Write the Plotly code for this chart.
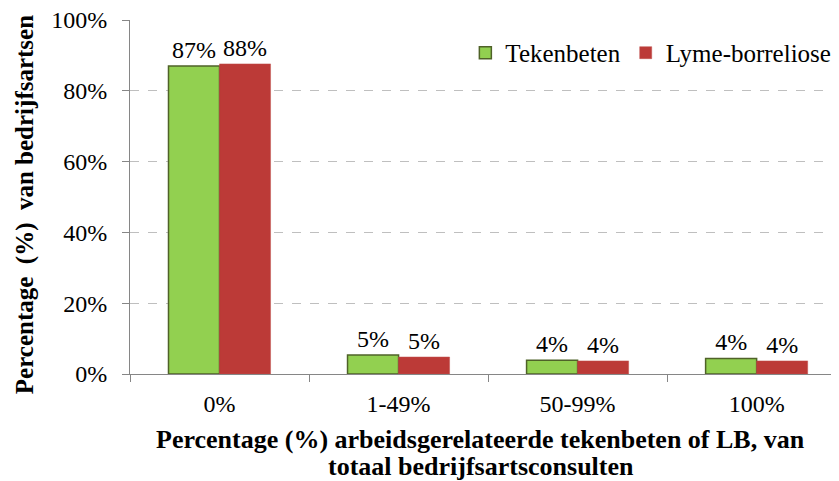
import plotly.graph_objects as go

categories = ["0%", "1-49%", "50-99%", "100%"]
tekenbeten = [87.0, 5.4, 3.9, 4.4]
lyme = [87.6, 4.8, 3.7, 3.7]
tekenbeten_labels = ["87%", "5%", "4%", "4%"]
lyme_labels = ["88%", "5%", "4%", "4%"]
y_ticks = [0, 20, 40, 60, 80, 100]
y_tick_labels = ["0%", "20%", "40%", "60%", "80%", "100%"]

font = "Liberation Serif"

fig = go.Figure()
fig.add_trace(go.Bar(
    x=categories, y=tekenbeten, name="Tekenbeten",
    marker=dict(color="#92D050", line=dict(color="#4F6228", width=1.5)),
    text=tekenbeten_labels, textposition="outside",
    textfont=dict(size=24, color="black", family=font),
    cliponaxis=False,
))
fig.add_trace(go.Bar(
    x=categories, y=lyme, name="Lyme-borreliose",
    marker=dict(color="#BC3A37", line=dict(color="#C0504D", width=0.5)),
    text=lyme_labels, textposition="outside",
    textfont=dict(size=24, color="black", family=font),
    cliponaxis=False,
))

# page body has an 8px margin, so the figure is a bit smaller than the window
fig.update_layout(
    width=831, height=473,
    margin=dict(l=122, r=0, t=12, b=107),
    paper_bgcolor="white", plot_bgcolor="white",
    font=dict(family=font, size=24, color="black"),
    barmode="group", bargap=0.43, bargroupgap=0,
    legend=dict(
        orientation="h", x=0.473, xanchor="left", y=0.907, yanchor="middle",
        font=dict(size=25), bgcolor="rgba(0,0,0,0)", itemwidth=30,
    ),
    xaxis=dict(
        range=[-0.5, 3.46], automargin=False,
        showline=True, linecolor="#868686", linewidth=1,
        ticks="outside", tickson="boundaries", ticklen=7, tickcolor="#868686",
        tickfont=dict(size=24), ticklabelstandoff=8,
    ),
    yaxis=dict(
        range=[0, 100], tickvals=y_ticks, ticktext=y_tick_labels, automargin=False,
        showline=True, linecolor="#868686", linewidth=1,
        ticks="outside", ticklen=7, tickcolor="#868686",
        showgrid=True, gridcolor="#BFBFBF", griddash="dash", gridwidth=1,
        zeroline=False, tickfont=dict(size=24), ticklabelstandoff=10,
        ticklabeloverflow="allow",
    ),
)

# axis titles as annotations to get Excel-like tight line spacing
fig.add_annotation(
    text="<b>Percentage (%) arbeidsgerelateerde tekenbeten of LB, van</b>",
    xref="paper", yref="paper", x=0.495, y=-0.186, xanchor="center", yanchor="middle",
    showarrow=False, font=dict(size=26),
)
fig.add_annotation(
    text="<b>totaal bedrijfsartsconsulten</b>",
    xref="paper", yref="paper", x=0.495, y=-0.26, xanchor="center", yanchor="middle",
    showarrow=False, font=dict(size=26),
)
fig.add_annotation(
    text="<b>Percentage  (%)  van bedrijfsartsen</b>",
    xref="paper", yref="paper", x=-0.148, y=0.477, xanchor="center", yanchor="middle",
    textangle=-90, showarrow=False, font=dict(size=25),
)

fig.write_html("out.html")
